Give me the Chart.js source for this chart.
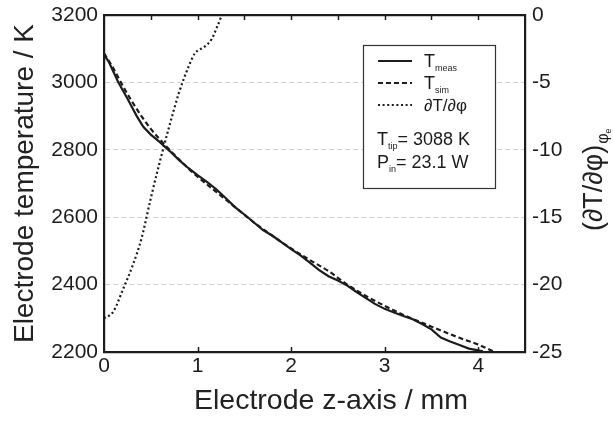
<!DOCTYPE html>
<html><head><meta charset="utf-8">
<script src="https://cdn.jsdelivr.net/npm/chart.js@4/dist/chart.umd.min.js"></script>
<style>html,body{margin:0;padding:0;background:#fff}#wrap{width:613px;height:428px}</style>
</head><body><div id="wrap"><canvas id="c" width="613" height="428"></canvas></div>
<script>
// ---- data ----
const xMeas = [0,0.05,0.15,0.25,0.35,0.42,0.5,0.6,0.7,0.8,0.9,1.0,1.1,1.2,1.3,1.4,1.5,1.6,1.7,1.8,1.9,2.0,2.1,2.2,2.3,2.4,2.5,2.6,2.7,2.8,2.9,3.0,3.1,3.2,3.3,3.4,3.5,3.6,3.7,3.8,3.9,4.0,4.05];
const tMeas = [3082,3062,3002,2952,2900,2868,2845,2822,2797,2770,2746,2725,2705,2683,2657,2630,2608,2585,2562,2545,2525,2505,2487,2465,2443,2425,2412,2397,2378,2360,2342,2328,2317,2307,2297,2283,2267,2243,2231,2221,2210,2205,2202];
const xSim = [0,0.1,0.2,0.3,0.4,0.5,0.6,0.7,0.8,0.9,1.0,1.2,1.4,1.6,1.8,2.0,2.2,2.4,2.6,2.8,3.0,3.2,3.4,3.6,3.8,4.0,4.2];
const tSim = [3086,3042,2990,2943,2900,2862,2830,2800,2772,2745,2720,2675,2630,2585,2545,2507,2473,2440,2400,2366,2337,2310,2287,2264,2242,2222,2197];
const xDeriv = [0,0.1,0.2,0.3,0.4,0.5,0.6,0.7,0.8,0.9,0.97,1.0,1.075,1.15,1.22,1.27,1.5,2.0,2.5,3.0,3.5,4.05];
const dDeriv = [-22.5,-22.0,-20.4,-18.7,-16.6,-13.6,-10.8,-8.2,-5.8,-3.9,-2.85,-2.65,-2.35,-1.8,-0.7,0,0,0,0,0,0,0];
const xTickValues = [0,1,2,3,4];
const xTopTickValues = [0.5,1,1.5,2,2.5,3,3.5,4];
const tempTickValues = [2200,2400,2600,2800,3000,3200];
const derivTickValues = [-25,-20,-15,-10,-5,0];
const xTitle = 'Electrode z-axis / mm';
const yTitle = 'Electrode temperature / K';
const y1TitleMain = '(\u2202T/\u2202\u03c6)';
const y1TitleSub = '\u03c6';
const y1TitleSubSub = 'e';
const legendRows = [
  {main:'T', sub:'meas'},
  {main:'T', sub:'sim'},
  {main:'\u2202T/\u2202\u03c6', sub:''}
];
const noteRows = [
  {main:'T', sub:'tip', rest:'= 3088 K'},
  {main:'P', sub:'in', rest:'= 23.1 W'}
];

const FONT = '"Liberation Sans", Arial, Helvetica, sans-serif';
const INK = '#1c1c1c';

function pts(xs, ys){ return xs.map((x,i)=>({x:x, y:ys[i]})); }

const decor = {
  id:'decor',
  afterDraw(chart){
    const ctx = chart.ctx, ca = chart.chartArea;
    const sx = chart.scales.x, sx2 = chart.scales.x2;
    ctx.save();
    ctx.strokeStyle = INK; ctx.lineWidth = 1.5;
    // inward tick marks
    sx.ticks.forEach(t=>{
      if (t.value<=0 || t.value>=4.5) return;
      const px = Math.round(sx.getPixelForValue(t.value))+0.5;
      ctx.beginPath(); ctx.moveTo(px, ca.bottom); ctx.lineTo(px, ca.bottom-5); ctx.stroke();
    });
    sx2.ticks.forEach(t=>{
      if (t.value<=0 || t.value>=4.5) return;
      const px = Math.round(sx2.getPixelForValue(t.value))+0.5;
      ctx.beginPath(); ctx.moveTo(px, ca.top); ctx.lineTo(px, ca.top+5); ctx.stroke();
    });
    // x axis title (slightly right of centre, as in the reference)
    ctx.fillStyle = '#222'; ctx.textAlign='center'; ctx.textBaseline='middle';
    ctx.font = '28.5px '+FONT;
    ctx.fillText(xTitle, 331, 401);
    // legend box
    const bx=363, by=45, bw=132, bh=143;
    ctx.fillStyle='#fff'; ctx.fillRect(bx,by,bw,bh);
    ctx.strokeStyle='#333'; ctx.lineWidth=1.2; ctx.strokeRect(bx+0.5,by+0.5,bw,bh);
    const ds = chart.data.datasets;
    ctx.fillStyle = INK; ctx.textBaseline='alphabetic'; ctx.textAlign='left';
    legendRows.forEach((r,i)=>{
      const yy = 61 + i*22;
      ctx.save();
      ctx.strokeStyle = ds[i].borderColor; ctx.lineWidth = ds[i].borderWidth;
      ctx.setLineDash(ds[i].borderDash || []);
      ctx.beginPath(); ctx.moveTo(378, yy); ctx.lineTo(412, yy); ctx.stroke();
      ctx.restore();
      let x = 424;
      ctx.font = (i===2?'17px ':'18px ')+FONT;
      ctx.fillText(r.main, x, yy+6);
      x += ctx.measureText(r.main).width;
      if (r.sub){ ctx.font='9px '+FONT; ctx.fillText(r.sub, x, yy+10); }
    });
    noteRows.forEach((r,i)=>{
      const base = 145 + i*23;
      let x = 377;
      ctx.font='18px '+FONT; ctx.fillText(r.main, x, base); x += ctx.measureText(r.main).width;
      ctx.font='9px '+FONT; ctx.fillText(r.sub, x, base+4); x += ctx.measureText(r.sub).width;
      ctx.font='18px '+FONT; ctx.fillText(r.rest, x, base);
    });
    // right axis title, reading bottom to top
    ctx.save();
    ctx.translate(602, 231);
    ctx.rotate(-Math.PI/2);
    ctx.fillStyle = '#222';
    ctx.font = '27px '+FONT;
    ctx.fillText(y1TitleMain, 0, 0);
    let w = ctx.measureText(y1TitleMain).width;
    ctx.font = '16px '+FONT;
    ctx.fillText(y1TitleSub, w+1, 6);
    w += ctx.measureText(y1TitleSub).width + 1;
    ctx.font = '9px '+FONT;
    ctx.fillText(y1TitleSubSub, w, 9);
    ctx.restore();
    ctx.restore();
  }
};

const plain = v => String(v);
const fitV = w => s => { s.width = w; s.paddingTop = 0; s.paddingBottom = 0; };

new Chart(document.getElementById('c'), {
  type:'line',
  data:{
    datasets:[
      {label:'T meas', data:pts(xMeas,tMeas), xAxisID:'x', yAxisID:'y', borderColor:INK, borderWidth:2.2, pointRadius:0, tension:0, fill:false},
      {label:'T sim', data:pts(xSim,tSim), xAxisID:'x', yAxisID:'y', borderColor:INK, borderWidth:2.2, borderDash:[5,3], pointRadius:0, cubicInterpolationMode:'monotone', fill:false},
      {label:'dT/dphi', data:pts(xDeriv,dDeriv), xAxisID:'x', yAxisID:'y1', borderColor:INK, borderWidth:2.2, borderDash:[2,2.6], pointRadius:0, cubicInterpolationMode:'monotone', fill:false, clip:false}
    ]
  },
  options:{
    responsive:false, animation:false, devicePixelRatio:1,
    layout:{padding:0},
    plugins:{legend:{display:false}, tooltip:{enabled:false}},
    scales:{
      x:{type:'linear', position:'bottom', min:0, max:4.5,
        afterBuildTicks:s=>{s.ticks = xTickValues.map(v=>({value:v}));},
        afterFit:s=>{s.height=76; s.paddingLeft=0; s.paddingRight=0;},
        ticks:{font:{family:FONT,size:21}, color:INK, padding:2, maxRotation:0, autoSkip:false, callback:plain},
        grid:{display:false, drawTicks:false},
        border:{display:true, color:INK, width:2.2},
        title:{display:false}
      },
      x2:{type:'linear', position:'top', min:0, max:4.5,
        afterBuildTicks:s=>{s.ticks = xTopTickValues.map(v=>({value:v}));},
        afterFit:s=>{s.height=15; s.paddingLeft=0; s.paddingRight=0;},
        ticks:{display:false},
        grid:{display:false, drawTicks:false},
        border:{display:true, color:INK, width:2.2}
      },
      y:{type:'linear', position:'left', min:2200, max:3200,
        afterBuildTicks:s=>{s.ticks = tempTickValues.map(v=>({value:v}));},
        afterFit:fitV(104),
        ticks:{font:{family:FONT,size:21}, color:INK, padding:6, autoSkip:false, callback:plain},
        grid:{drawTicks:false, lineWidth:1, color:c=>(c.tick && (c.tick.value===2200||c.tick.value===3200))?'rgba(0,0,0,0)':'#d2d2d2'},
        border:{display:true, color:INK, width:2.2, dash:[5,3]},
        title:{display:true, text:yTitle, color:'#222', font:{family:FONT,size:28, lineHeight:1.2}, padding:{top:8,bottom:0}}
      },
      y1:{type:'linear', position:'right', min:-25, max:0,
        afterBuildTicks:s=>{s.ticks = derivTickValues.map(v=>({value:v}));},
        afterFit:fitV(88),
        ticks:{font:{family:FONT,size:21}, color:INK, padding:7, autoSkip:false, callback:plain},
        grid:{display:false, drawTicks:false},
        border:{display:true, color:INK, width:2.2}
      }
    }
  },
  plugins:[decor]
});
</script>
</body></html>
